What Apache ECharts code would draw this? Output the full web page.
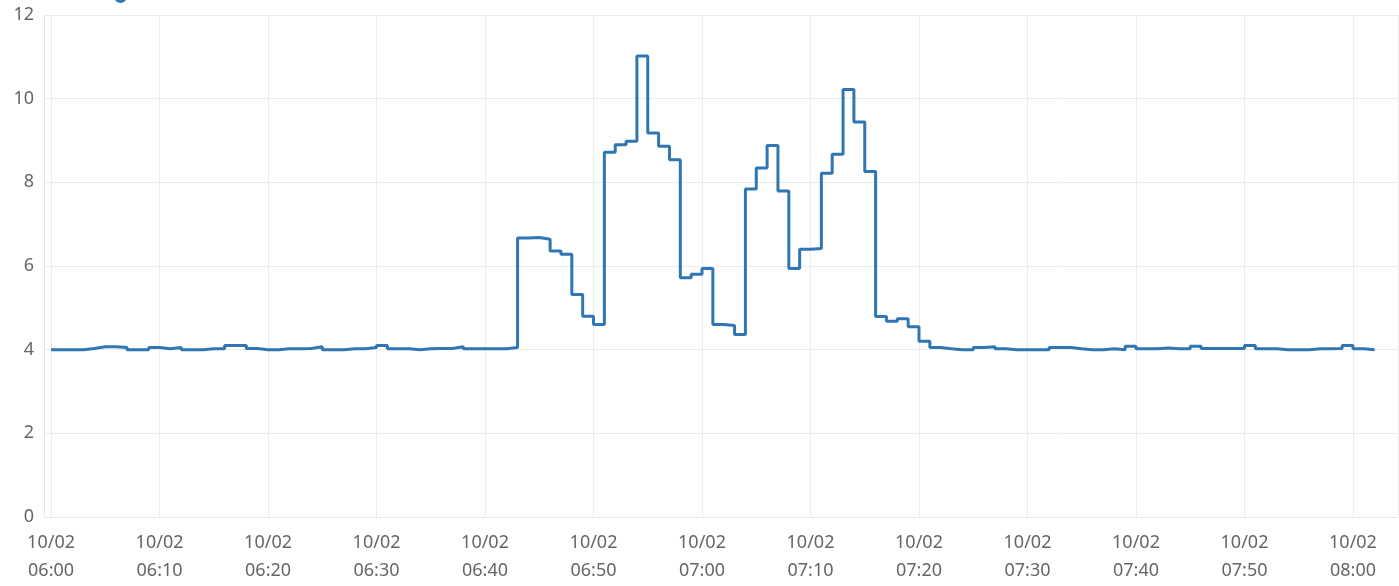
<!DOCTYPE html>
<html>
<head>
<meta charset="utf-8">
<script src="https://cdn.jsdelivr.net/npm/echarts@6/dist/echarts.min.js"></script>
<style>
html,body{margin:0;padding:0;background:#fff;}
#chart{width:1399px;height:586px;}
</style>
</head>
<body>
<div id="chart"></div>
<script>
// Per-minute samples starting 10/02 06:00
const startTime = [2023, 9, 2, 6, 0];
const stepMinutes = 1;
const seriesName = 'value';
const values = [
  4.00, 4.00, 4.00, 4.03, 4.07, 4.07, 4.05, 4.00, 4.00, 4.05,
  4.02, 4.05, 4.00, 4.00, 4.02, 4.02, 4.10, 4.10, 4.03, 4.00,
  4.00, 4.02, 4.02, 4.03, 4.07, 4.00, 4.00, 4.02, 4.02, 4.05,
  4.10, 4.02, 4.02, 4.00, 4.02, 4.03, 4.03, 4.07, 4.02, 4.02,
  4.02, 4.02, 4.05, 6.67, 6.68, 6.64, 6.36, 6.28, 5.32, 4.80,
  4.60, 8.72, 8.90, 8.98, 11.02, 9.18, 8.86, 8.54, 5.72, 5.80,
  5.94, 4.60, 4.58, 4.36, 7.84, 8.34, 8.88, 7.79, 5.94, 6.40,
  6.42, 8.22, 8.67, 10.22, 9.44, 8.26, 4.79, 4.68, 4.74, 4.55,
  4.20, 4.05, 4.02, 4.00, 4.00, 4.05, 4.07, 4.02, 4.00, 4.00,
  4.00, 4.00, 4.05, 4.05, 4.02, 4.00, 4.00, 4.02, 4.00, 4.08,
  4.02, 4.02, 4.04, 4.02, 4.02, 4.08, 4.03, 4.03, 4.03, 4.03,
  4.10, 4.02, 4.02, 4.00, 4.00, 4.00, 4.02, 4.02, 4.03, 4.10,
  4.02, 4.00, 4.00
];
const yTicks = [0, 2, 4, 6, 8, 10, 12];

const t0 = new Date(startTime[0], startTime[1], startTime[2], startTime[3], startTime[4]).getTime();
const MIN = 60000;
const points = values.map((v, i) => [t0 + i * stepMinutes * MIN, v]);

const pad = n => (n < 10 ? '0' : '') + n;
const chart = echarts.init(document.getElementById('chart'));
chart.setOption({
  animation: false,
  backgroundColor: '#ffffff',
  legend: {
    show: true,
    top: -15,
    left: 109,
    icon: 'circle',
    itemWidth: 13,
    itemHeight: 13,
    textStyle: { color: '#333', fontSize: 9 },
    data: [seriesName]
  },
  grid: {
    left: 44, right: 1, top: 15, bottom: 69,
    containLabel: false,
    outerBoundsMode: 'none'
  },
  xAxis: {
    type: 'time',
    min: t0 - 39000,
    max: t0 + 124 * MIN + 9000,
    splitNumber: 12,
    minInterval: 10 * MIN,
    axisLine: { show: true, lineStyle: { color: '#e6e6e6', width: 1 } },
    axisTick: { show: false },
    splitLine: { show: true, lineStyle: { color: '#ececec', width: 1 } },
    axisLabel: {
      color: '#666',
      fontSize: 18,
      fontFamily: 'Noto Sans',
      lineHeight: 28,
      margin: 12,
      showMinLabel: false,
      showMaxLabel: false,
      hideOverlap: false,
      formatter: function (val) {
        const d = new Date(val);
        return pad(d.getMonth() + 1) + '/' + pad(d.getDate()) + '\n' + pad(d.getHours()) + ':' + pad(d.getMinutes());
      }
    }
  },
  yAxis: {
    type: 'value',
    min: yTicks[0],
    max: yTicks[yTicks.length - 1],
    interval: 2,
    axisLine: { show: true, lineStyle: { color: '#e6e6e6', width: 1 } },
    axisTick: { show: false },
    splitLine: { show: true, lineStyle: { color: '#ececec', width: 1 } },
    axisLabel: {
      color: '#666',
      fontSize: 18,
      fontFamily: 'Noto Sans',
      margin: 10
    }
  },
  series: [{
    name: seriesName,
    type: 'line',
    step: 'end',
    data: points,
    showSymbol: false,
    symbol: 'circle',
    itemStyle: { color: '#2f76b3' },
    lineStyle: { color: '#2f76b3', width: 3 }
  }]
});
</script>
</body>
</html>
